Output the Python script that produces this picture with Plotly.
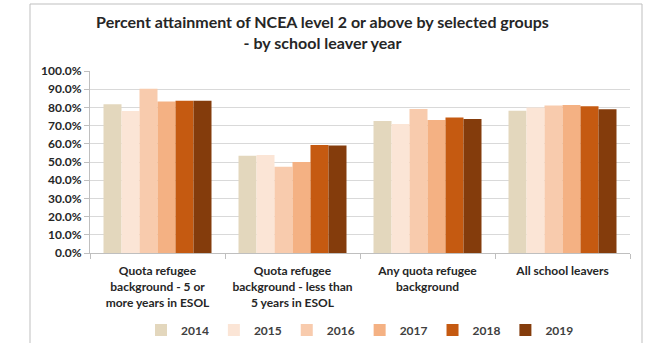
import plotly.graph_objects as go

categories = [
    "Quota refugee<br>background - 5 or<br>more years in ESOL",
    "Quota refugee<br>background - less than<br>5 years in ESOL",
    "Any quota refugee<br>background",
    "All school leavers",
]
years = ["2014", "2015", "2016", "2017", "2018", "2019"]
values = {
    "2014": [81.7, 53.5, 72.5, 78.2],
    "2015": [78.0, 53.8, 70.9, 79.9],
    "2016": [90.3, 47.4, 79.1, 81.0],
    "2017": [83.3, 50.0, 73.1, 81.3],
    "2018": [83.7, 59.3, 74.4, 80.6],
    "2019": [83.7, 59.0, 73.6, 79.0],
}
colors = ["#E3D7BD", "#FBE5D6", "#F8CBAD", "#F4B183", "#C55A11", "#843C0C"]
yticks = [0, 10, 20, 30, 40, 50, 60, 70, 80, 90, 100]

FONT = "Lato"
fig = go.Figure()
for y, c in zip(years, colors):
    fig.add_trace(go.Bar(name=y, x=categories, y=values[y], marker_color=c,
                         marker_line_width=0))

fig.update_layout(
    width=645, height=343,
    margin=dict(l=90, r=15, t=71, b=90, autoexpand=False),
    paper_bgcolor="white", plot_bgcolor="white",
    barmode="group", bargap=0.2, bargroupgap=0,
    font=dict(family=FONT, size=12, color="#262626"),
    title=dict(text="<b>Percent attainment of NCEA level 2 or above by selected groups<br>- by school leaver year</b>",
               x=0.5, xanchor="center", y=0.918, yanchor="top",
               font=dict(family=FONT, size=16, color="#262626")),
    showlegend=True,
    legend=dict(orientation="h", x=0.5, xanchor="center",
                yref="container", y=13/343, yanchor="middle",
                font=dict(family=FONT, size=12, color="#404040", weight="bold"),
                itemwidth=30, traceorder="normal", borderwidth=0,
                tracegroupgap=0),
    xaxis=dict(showline=True, linecolor="#BFBFBF", linewidth=1,
               ticks="outside", tickson="boundaries", ticklen=5, tickcolor="#BFBFBF",
               ticklabelstandoff=7,
               tickfont=dict(family=FONT, size=12, color="#262626", weight="bold"),
               showgrid=False),
    yaxis=dict(range=[0, 100], tickvals=yticks,
               ticktext=[f"{v:.1f}%" for v in yticks],
               showline=True, linecolor="#BFBFBF", linewidth=1,
               ticks="outside", ticklen=5, tickcolor="#BFBFBF",
               gridcolor="#D9D9D9", gridwidth=1, zeroline=False,
               tickfont=dict(family=FONT, size=12, color="#262626", weight="bold")),
    shapes=[dict(type="rect", xref="paper", yref="paper",
                 x0=-60/540, x1=552/540, y0=(253-350)/182, y1=(253-4)/182,
                 line=dict(color="#BFBFBF", width=1), fillcolor="rgba(0,0,0,0)",
                 layer="below")],
)
fig.write_html("out.html")
